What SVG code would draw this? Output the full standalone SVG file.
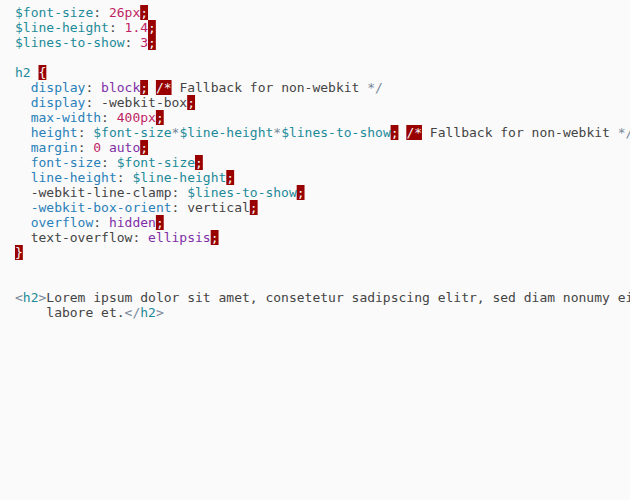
<svg xmlns="http://www.w3.org/2000/svg" width="630" height="500" viewBox="0 0 630 500">
<style>
text{font-family:"DejaVu Sans Mono","Liberation Mono",monospace;font-size:13px;fill:#444;white-space:pre}
.v{fill:#1d8a99}
.n{fill:#bf1f64}
.k{fill:#7f2fa6}
.p{fill:#2980b9}
.o{fill:#778899}
.e{fill:#f4f4f4}
.eb{fill:#990000}
</style>
<rect x="0" y="0" width="630" height="500" fill="#fafafa"/>
<g id="error-marks">
<rect class="eb" x="140.2" y="5" width="7.83" height="15"/>
<rect class="eb" x="148.0" y="20" width="7.83" height="15"/>
<rect class="eb" x="148.0" y="35" width="7.83" height="15"/>
<rect class="eb" x="38.5" y="65" width="7.83" height="15"/>
<rect class="eb" x="140.2" y="80" width="7.83" height="15"/>
<rect class="eb" x="155.9" y="80" width="15.65" height="15"/>
<rect class="eb" x="187.2" y="95" width="7.83" height="15"/>
<rect class="eb" x="155.9" y="110" width="7.83" height="15"/>
<rect class="eb" x="390.6" y="125" width="7.83" height="15"/>
<rect class="eb" x="406.3" y="125" width="15.65" height="15"/>
<rect class="eb" x="140.2" y="140" width="7.83" height="15"/>
<rect class="eb" x="195.0" y="155" width="7.83" height="15"/>
<rect class="eb" x="226.3" y="170" width="7.83" height="15"/>
<rect class="eb" x="296.7" y="185" width="7.83" height="15"/>
<rect class="eb" x="249.8" y="200" width="7.83" height="15"/>
<rect class="eb" x="155.9" y="215" width="7.83" height="15"/>
<rect class="eb" x="210.7" y="230" width="7.83" height="15"/>
<rect class="eb" x="15" y="245" width="7.83" height="15"/>
</g>
<g id="code">
<text xml:space="preserve" x="15" y="17"><tspan class="v">$font-size</tspan>: <tspan class="n">26px</tspan><tspan class="e">;</tspan></text>
<text xml:space="preserve" x="15" y="32"><tspan class="v">$line-height</tspan>: <tspan class="n">1.4</tspan><tspan class="e">;</tspan></text>
<text xml:space="preserve" x="15" y="47"><tspan class="v">$lines-to-show</tspan>: <tspan class="n">3</tspan><tspan class="e">;</tspan></text>
<text xml:space="preserve" x="15" y="77"><tspan class="v">h2</tspan> <tspan class="e">{</tspan></text>
<text xml:space="preserve" x="15" y="92">  <tspan class="p">display</tspan>: <tspan class="k">block</tspan><tspan class="e">;</tspan> <tspan class="e">/*</tspan> Fallback for non-webkit <tspan class="o">*/</tspan></text>
<text xml:space="preserve" x="15" y="107">  <tspan class="p">display</tspan>: -webkit-box<tspan class="e">;</tspan></text>
<text xml:space="preserve" x="15" y="122">  <tspan class="p">max-width</tspan>: <tspan class="n">400px</tspan><tspan class="e">;</tspan></text>
<text xml:space="preserve" x="15" y="137">  <tspan class="p">height</tspan>: <tspan class="v">$font-size</tspan><tspan class="o">*</tspan><tspan class="v">$line-height</tspan><tspan class="o">*</tspan><tspan class="v">$lines-to-show</tspan><tspan class="e">;</tspan> <tspan class="e">/*</tspan> Fallback for non-webkit <tspan class="o">*/</tspan></text>
<text xml:space="preserve" x="15" y="152">  <tspan class="p">margin</tspan>: <tspan class="n">0</tspan> <tspan class="k">auto</tspan><tspan class="e">;</tspan></text>
<text xml:space="preserve" x="15" y="167">  <tspan class="p">font-size</tspan>: <tspan class="v">$font-size</tspan><tspan class="e">;</tspan></text>
<text xml:space="preserve" x="15" y="182">  <tspan class="p">line-height</tspan>: <tspan class="v">$line-height</tspan><tspan class="e">;</tspan></text>
<text xml:space="preserve" x="15" y="197">  -webkit-line-clamp: <tspan class="v">$lines-to-show</tspan><tspan class="e">;</tspan></text>
<text xml:space="preserve" x="15" y="212">  <tspan class="p">-webkit-box-orient</tspan>: vertical<tspan class="e">;</tspan></text>
<text xml:space="preserve" x="15" y="227">  <tspan class="p">overflow</tspan>: <tspan class="k">hidden</tspan><tspan class="e">;</tspan></text>
<text xml:space="preserve" x="15" y="242">  text-overflow: <tspan class="k">ellipsis</tspan><tspan class="e">;</tspan></text>
<text xml:space="preserve" x="15" y="257"><tspan class="e">}</tspan></text>
<text xml:space="preserve" x="15" y="302"><tspan class="o">&lt;</tspan><tspan class="v">h2</tspan><tspan class="o">&gt;</tspan>Lorem ipsum dolor sit amet, consetetur sadipscing elitr, sed diam nonumy ei</text>
<text xml:space="preserve" x="15" y="317">    labore et.<tspan class="o">&lt;/</tspan><tspan class="v">h2</tspan><tspan class="o">&gt;</tspan></text>
</g>
</svg>
